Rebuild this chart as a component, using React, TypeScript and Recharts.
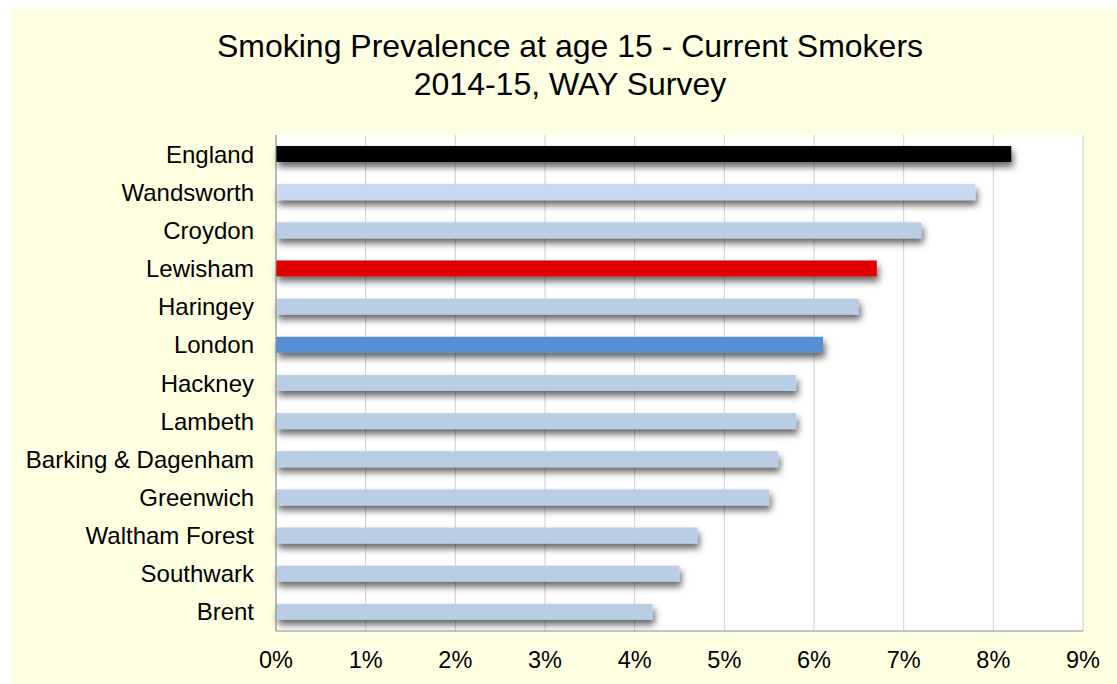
import { Bar, BarChart, CartesianGrid, Cell, XAxis, YAxis } from "recharts"

// Current smokers at age 15 by area, 2014-15 WAY survey (%)
const areas = [
  "England",
  "Wandsworth",
  "Croydon",
  "Lewisham",
  "Haringey",
  "London",
  "Hackney",
  "Lambeth",
  "Barking & Dagenham",
  "Greenwich",
  "Waltham Forest",
  "Southwark",
  "Brent",
]
const rates = [8.2, 7.8, 7.2, 6.7, 6.5, 6.1, 5.8, 5.8, 5.6, 5.5, 4.7, 4.5, 4.2]
const barColors = [
  "#000000",
  "#C6D9F1",
  "#B9CDE5",
  "#E00000",
  "#B9CDE5",
  "#558ED5",
  "#B9CDE5",
  "#B9CDE5",
  "#B9CDE5",
  "#B9CDE5",
  "#B9CDE5",
  "#B9CDE5",
  "#B9CDE5",
]
const xTicks = [0, 1, 2, 3, 4, 5, 6, 7, 8, 9]

const data = areas.map((name, i) => ({ name, rate: rates[i] }))

const font = "'Liberation Sans', Arial, sans-serif"

const ShadowBar = (props: any) => {
  const { x, y, width, height, fill } = props
  return <rect x={x} y={y} width={width} height={height} fill={fill} filter="url(#barShadow)" />
}

export default function App() {
  return (
    <div
      style={{
        position: "absolute",
        left: 10,
        top: 8,
        width: 1107,
        height: 676,
        background: "#FFFFE1",
        fontFamily: font,
      }}
    >
      <svg width={1107} height={110} style={{ position: "absolute", left: 0, top: 0 }}>
        <text x={560} y={49} textAnchor="middle" fontSize={32} fontFamily={font} fill="#000">
          Smoking Prevalence at age 15 - Current Smokers
        </text>
        <text x={560} y={87} textAnchor="middle" fontSize={32} fontFamily={font} fill="#000">
          2014-15, WAY Survey
        </text>
      </svg>
      <BarChart
        width={1107}
        height={676}
        data={data}
        layout="vertical"
        margin={{ top: 127, right: 34, left: 0, bottom: 22 }}
        style={{ position: "absolute", left: 0, top: 0 }}
      >
        <defs>
          <filter id="barShadow" x="-3%" y="-30%" width="108%" height="260%">
            <feDropShadow dx={2} dy={5} stdDeviation={3.5} floodColor="#000" floodOpacity={0.6} />
          </filter>
        </defs>
        <CartesianGrid horizontal={false} stroke="#D0D0D0" fill="#FFFFFF" />
        <XAxis
          type="number"
          domain={[0, 9]}
          ticks={xTicks}
          tickFormatter={(v) => `${v}%`}
          axisLine={{ stroke: "#8C8C8C" }}
          tickLine={false}
          tickSize={0}
          tickMargin={20}
          height={31}
          tick={{ fill: "#000", fontSize: 23.5, fontFamily: font }}
          interval={0}
        />
        <YAxis
          type="category"
          dataKey="name"
          width={266}
          axisLine={{ stroke: "#8C8C8C" }}
          tickLine={false}
          tickSize={0}
          tickMargin={22}
          tick={{ fill: "#000", fontSize: 24, fontFamily: font }}
          interval={0}
        />
        <Bar dataKey="rate" barSize={16} shape={ShadowBar} isAnimationActive={false}>
          {data.map((d, i) => (
            <Cell key={d.name} fill={barColors[i]} />
          ))}
        </Bar>
      </BarChart>
    </div>
  )
}
